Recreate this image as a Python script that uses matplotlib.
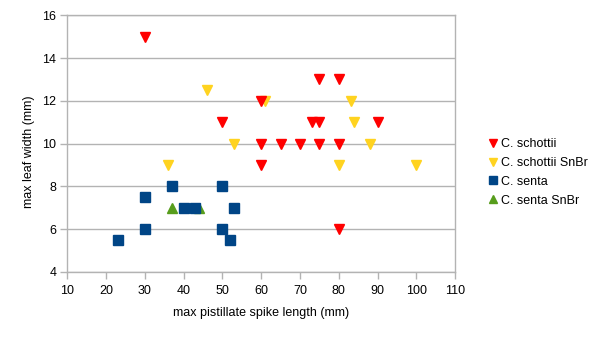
import matplotlib
matplotlib.use("Agg")
import matplotlib.pyplot as plt

plt.rcParams['font.family'] = ['Liberation Sans', 'DejaVu Sans']

schottii_x = [30, 60, 50, 60, 65, 70, 75, 80, 60, 75, 80, 73, 75, 90, 80]
schottii_y = [15, 12, 11, 10, 10, 10, 10, 10, 9, 13, 13, 11, 11, 11, 6]

schottii_snbr_x = [46, 61, 53, 36, 83, 84, 88, 80, 100]
schottii_snbr_y = [12.5, 12, 10, 9, 12, 11, 10, 9, 9]

senta_x = [23, 30, 30, 37, 40, 43, 50, 53, 50, 52]
senta_y = [5.5, 7.5, 6, 8, 7, 7, 8, 7, 6, 5.5]

senta_snbr_x = [37, 44]
senta_snbr_y = [7, 7]

series_labels = ["C. schottii", "C. schottii SnBr", "C. senta", "C. senta SnBr"]
x_ticks = [10, 20, 30, 40, 50, 60, 70, 80, 90, 100, 110]
y_ticks = [4, 6, 8, 10, 12, 14, 16]

fig = plt.figure(figsize=(6.05, 3.4), dpi=100)
ax = fig.add_axes([67.3/605, 1-272/340, (455.3-67.3)/605, (272-15.3)/340])

grid_c = '#b3b3b3'
ms = 7.5
fs = 9
h2, = ax.plot(schottii_snbr_x, schottii_snbr_y, 'v', color='#ffd320', ms=ms, ls='none', zorder=2)
h1, = ax.plot(schottii_x, schottii_y, 'v', color='#ff0000', ms=ms, ls='none', zorder=3)
h4, = ax.plot(senta_snbr_x, senta_snbr_y, '^', color='#579d1c', ms=ms, ls='none', zorder=2)
h3, = ax.plot(senta_x, senta_y, 's', color='#004586', ms=ms, ls='none', zorder=3)

ax.set_xlim(10, 110)
ax.set_ylim(4, 16)
ax.set_xticks(x_ticks)
ax.set_yticks(y_ticks)
ax.yaxis.grid(True, color=grid_c, lw=1)
ax.set_axisbelow(True)
for s in ax.spines.values():
    s.set_color(grid_c)
    s.set_linewidth(1)
ax.tick_params(axis='both', colors=grid_c, length=5, width=1, labelcolor='black', labelsize=fs)
ax.tick_params(axis='x', pad=4)
ax.tick_params(axis='y', pad=3)

ax.set_xlabel("max pistillate spike length (mm)", fontsize=fs)
ax.set_ylabel("max leaf width (mm)", fontsize=fs)
ax.xaxis.set_label_coords(0.5, -0.138)
ax.yaxis.set_label_coords(-0.083, 0.47)

fig.legend([h1, h2, h3, h4], series_labels, loc='upper left',
           bbox_to_anchor=(488/605, 1-138/340), frameon=False, fontsize=fs,
           handlelength=0.8, handletextpad=0.25, labelspacing=0.55,
           markerscale=0.85, borderaxespad=0, borderpad=0)

fig.savefig("out.png", dpi=100)
